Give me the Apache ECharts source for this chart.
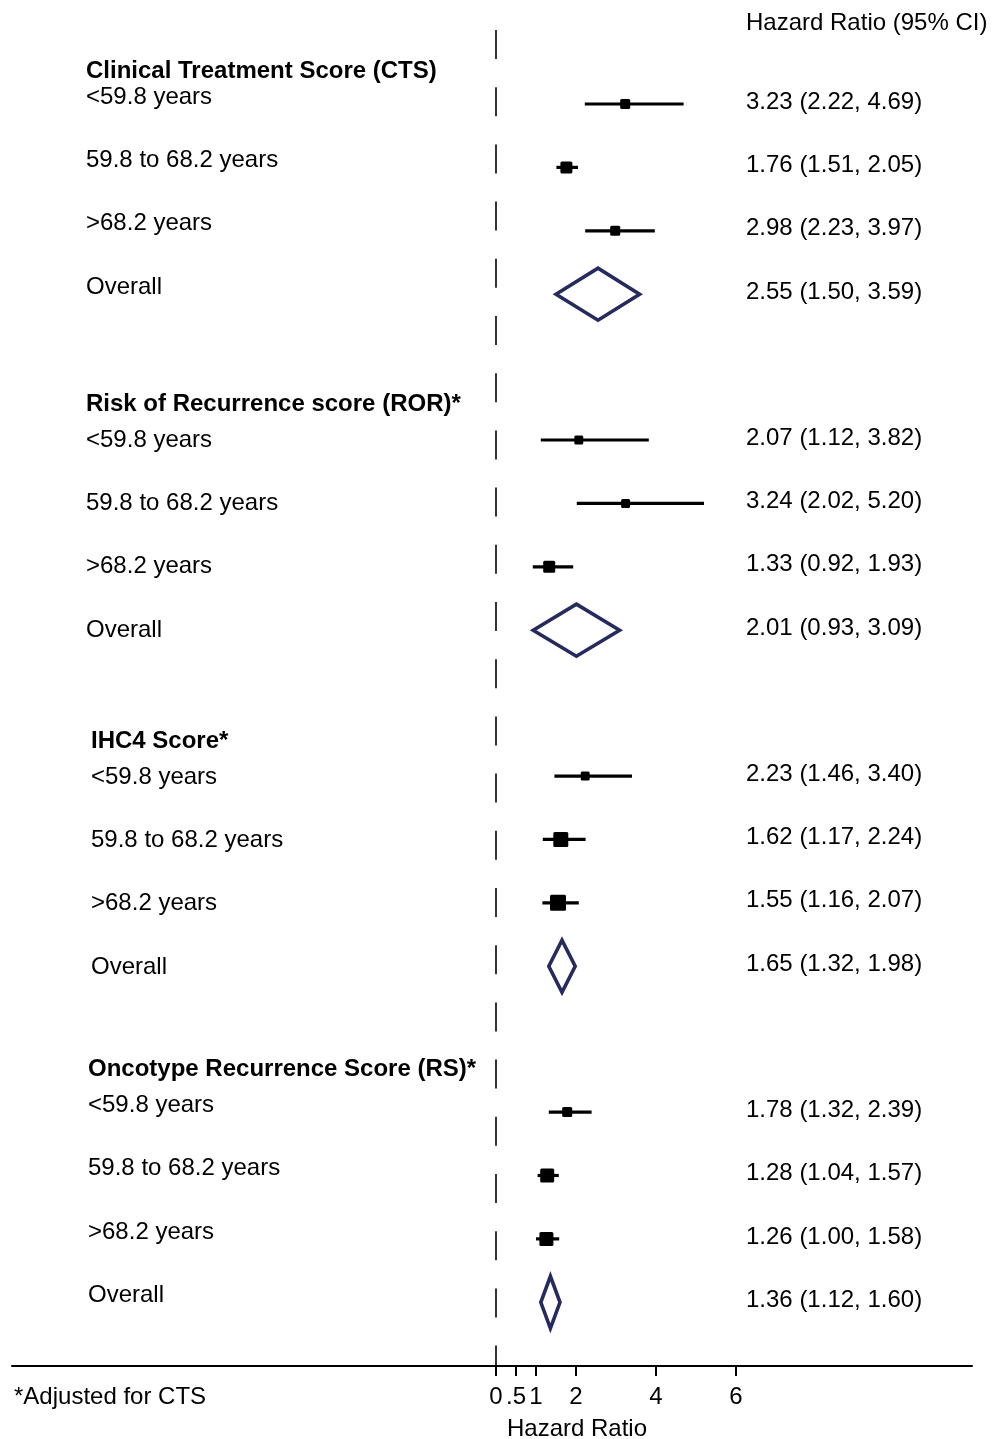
<!DOCTYPE html>
<html>
<head>
<meta charset="utf-8">
<title>Hazard ratios by age group</title>
<script src="https://cdn.jsdelivr.net/npm/echarts@6/dist/echarts.min.js"></script>
<style>
  html, body { margin: 0; padding: 0; background: #fff; }
  #chart { width: 992px; height: 1439px; }
</style>
</head>
<body>
<div id="chart"></div>
<script>
// ---- data ----
const groupNames = [
  'Clinical Treatment Score (CTS)',
  'Risk of Recurrence score (ROR)*',
  'IHC4 Score*',
  'Oncotype Recurrence Score (RS)*'
];
const rowNames = ['<59.8 years', '59.8 to 68.2 years', '>68.2 years', 'Overall'];

// hazard ratio, lower and upper 95% CI per group (rows in rowNames order)
const ctsHR  = [3.23, 1.76, 2.98, 2.55];
const ctsLo  = [2.22, 1.51, 2.23, 1.50];
const ctsHi  = [4.69, 2.05, 3.97, 3.59];

const rorHR  = [2.07, 3.24, 1.33, 2.01];
const rorLo  = [1.12, 2.02, 0.92, 0.93];
const rorHi  = [3.82, 5.20, 1.93, 3.09];

const ihc4HR = [2.23, 1.62, 1.55, 1.65];
const ihc4Lo = [1.46, 1.17, 1.16, 1.32];
const ihc4Hi = [3.40, 2.24, 2.07, 1.98];

const rsHR   = [1.78, 1.28, 1.26, 1.36];
const rsLo   = [1.32, 1.04, 1.00, 1.12];
const rsHi   = [2.39, 1.57, 1.58, 1.60];

// relative weights of the three age strata (box area)
const ctsW  = [25, 36, 25];
const rorW  = [20, 20, 36];
const ihc4W = [20, 56, 64];
const rsW   = [25, 49, 49];

const xTicks = [0, 0.5, 1, 2, 4, 6];

// ---- layout ----
const GROUP_STEP = 5.3;             // rows between the first rows of consecutive groups
const Y_MIN = -1.167, Y_MAX = 19.905;
const FONT = '"Liberation Sans", Arial, Helvetica, sans-serif';
const FS = 24;
const DIAMOND_HALF = 26;            // px
const NAVY = '#262a5c';
// per-group text placement: left x (px), row label dy (px), header dy (px, from first row)
const groupText = [
  { x: 86, dy: -7, hdy: -33 },
  { x: 86, dy: 0,  hdy: -36 },
  { x: 91, dy: 1,  hdy: -35 },
  { x: 88, dy: -7, hdy: -43 }
];
const RIGHT_X = 746, RIGHT_DY = -2;

const tables = [
  [ctsHR, ctsLo, ctsHi, ctsW],
  [rorHR, rorLo, rorHi, rorW],
  [ihc4HR, ihc4Lo, ihc4Hi, ihc4W],
  [rsHR, rsLo, rsHi, rsW]
];

const rows = [];
tables.forEach(([hr, lo, hi, w], gi) => {
  hr.forEach((v, ri) => {
    rows.push([gi, ri, v, lo[ri], hi[ri], ri < w.length ? w[ri] : 0]);
  });
});
const headers = groupNames.map((name, gi) => [gi]);

const fmt = v => v.toFixed(2);

function renderRow(params, api) {
  const gi = api.value(0), ri = api.value(1);
  const est = api.value(2), lo = api.value(3), hi = api.value(4), w = api.value(5);
  const y = gi * GROUP_STEP + ri;
  const pc = api.coord([est, y]);
  const pl = api.coord([lo, y]);
  const ph = api.coord([hi, y]);
  const t = groupText[gi];
  const children = [];
  const isOverall = ri === rowNames.length - 1;
  if (isOverall) {
    children.push({
      type: 'polygon',
      shape: { points: [[pl[0], pc[1]], [pc[0], pc[1] - DIAMOND_HALF], [ph[0], pc[1]], [pc[0], pc[1] + DIAMOND_HALF]] },
      style: { fill: 'none', stroke: NAVY, lineWidth: 3.6, lineJoin: 'miter' }
    });
  } else {
    children.push({
      type: 'line',
      shape: { x1: pl[0], y1: pc[1], x2: ph[0], y2: pc[1] },
      style: { stroke: '#000', lineWidth: 3.2 }
    });
    const s = 2 * Math.sqrt(w);
    children.push({
      type: 'rect',
      shape: { x: pc[0] - s / 2, y: pc[1] - s / 2, width: s, height: s, r: 1.5 },
      style: { fill: '#000' }
    });
  }
  children.push({
    type: 'text',
    x: t.x, y: pc[1] + t.dy,
    style: { text: rowNames[ri], font: FS + 'px ' + FONT, fill: '#000', align: 'left', verticalAlign: 'middle' }
  });
  children.push({
    type: 'text',
    x: RIGHT_X, y: pc[1] + RIGHT_DY,
    style: { text: fmt(est) + ' (' + fmt(lo) + ', ' + fmt(hi) + ')', font: FS + 'px ' + FONT, fill: '#000', align: 'left', verticalAlign: 'middle' }
  });
  return { type: 'group', children };
}

function renderHeader(params, api) {
  const gi = api.value(0);
  const p = api.coord([0, gi * GROUP_STEP]);
  const t = groupText[gi];
  return {
    type: 'text',
    x: t.x, y: p[1] + t.hdy,
    style: { text: groupNames[gi], font: 'bold ' + FS + 'px ' + FONT, fill: '#000', align: 'left', verticalAlign: 'middle' }
  };
}

const chart = echarts.init(document.getElementById('chart'), null, { renderer: 'canvas' });
chart.setOption({
  animation: false,
  backgroundColor: '#fff',
  grid: { left: 12, right: 20, top: 30, bottom: 73, containLabel: false },
  xAxis: {
    type: 'value',
    min: -12.1, max: 11.9,
    splitLine: { show: false },
    axisLine: { show: true, onZero: false, lineStyle: { color: '#000', width: 2 } },
    axisTick: { show: true, customValues: xTicks, length: 10, lineStyle: { color: '#000', width: 2 } },
    axisLabel: {
      show: true, customValues: xTicks, margin: 19,
      color: '#000', fontSize: FS, fontFamily: FONT,
      formatter: v => (v === 0.5 ? '.5' : String(v))
    }
  },
  yAxis: {
    type: 'value', inverse: true, min: Y_MIN, max: Y_MAX, show: false
  },
  graphic: [
    { type: 'text', left: 746, top: 11,
      style: { text: 'Hazard Ratio (95% CI)', font: FS + 'px ' + FONT, fill: '#000' } },
    { type: 'text', left: 14, top: 1385,
      style: { text: '*Adjusted for CTS', font: FS + 'px ' + FONT, fill: '#000' } },
    { type: 'text', x: 577, y: 1429,
      style: { text: 'Hazard Ratio', font: FS + 'px ' + FONT, fill: '#000', align: 'center', verticalAlign: 'middle' } }
  ],
  series: [
    {
      // reference line at zero
      type: 'line',
      data: [[0, Y_MIN], [0, Y_MAX]],
      symbol: 'none', silent: true,
      lineStyle: { color: '#000', width: 1.6, type: [29, 28.2] },
      z: 1
    },
    {
      type: 'custom',
      data: rows,
      renderItem: renderRow,
      silent: true,
      z: 3
    },
    {
      type: 'custom',
      data: headers,
      renderItem: renderHeader,
      silent: true,
      z: 3
    }
  ]
});
</script>
</body>
</html>
